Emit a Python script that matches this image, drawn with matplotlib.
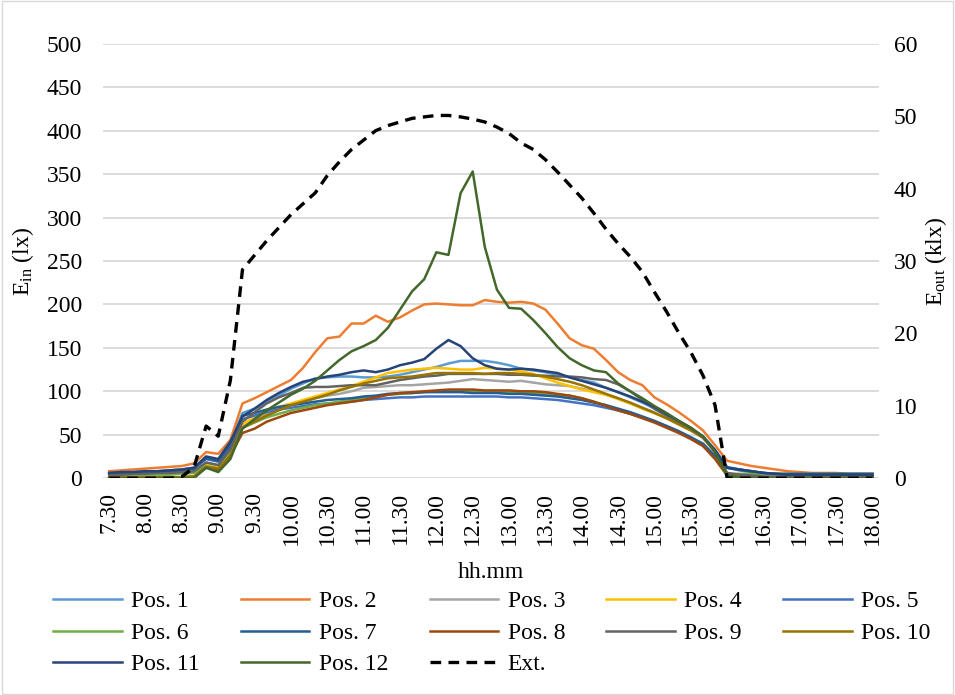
import matplotlib
matplotlib.use("Agg")
import matplotlib.pyplot as plt
from matplotlib.patches import Rectangle

plt.rcParams['font.family'] = ['Liberation Serif', 'DejaVu Serif']
plt.rcParams['mathtext.fontset'] = 'custom'
plt.rcParams['mathtext.rm'] = 'Liberation Serif'
plt.rcParams['mathtext.it'] = 'Liberation Serif:italic'

# time categories, 10-minute steps from 7.30 to 18.00
times = []
for h in range(7, 19):
    for m in range(0, 60, 10):
        if (h == 7 and m < 30) or (h == 18 and m > 0):
            continue
        times.append(f"{h}.{m:02d}")

pos1 = [6,6,7,7,8,8,9,11,24,21,40,
        75,80,88,95,103,109,115,116,117,117,
        116,116,117,119,122,125,128,132,135,135,
        135,133,130,126,124,122,119,116,113,110,
        104,99,93,87,80,72,65,57,48,33,13,
        10,8,6,5,4,4,4,4,4,4,4,4]
pos2 = [8,9,10,11,12,13,14,17,30,28,44,
        86,92,99,106,113,127,145,161,163,178,
        178,187,180,185,193,200,201,200,199,199,
        205,203,202,203,201,194,178,161,153,149,
        136,122,113,107,93,85,76,66,55,38,20,
        17,14,12,10,8,7,6,6,6,5,5,5]
pos3 = [4,4,5,5,6,6,7,8,18,15,33,
        60,66,74,80,84,88,92,95,97,100,
        104,105,106,107,107,108,109,110,112,114,
        113,112,111,112,110,108,107,106,103,100,
        96,92,86,81,76,69,62,55,46,30,5,
        3,2,1,1,1,1,1,1,1,1,1,1]
pos4 = [3,3,4,4,5,5,6,7,15,12,30,
        62,70,76,82,86,90,94,98,102,106,
        111,116,121,123,125,126,127,126,125,125,
        127,126,125,123,120,115,110,106,102,99,
        96,91,86,80,75,69,62,55,47,31,4,
        2,1,1,1,1,1,1,1,1,1,1,1]
pos5 = [6,7,7,8,8,9,10,12,22,19,37,
        68,72,76,79,81,83,85,86,87,88,
        90,91,92,93,93,94,94,94,94,94,
        94,94,93,93,92,91,90,88,86,84,
        81,78,74,70,65,60,54,47,40,25,12,
        9,7,6,5,4,4,4,4,4,4,4,4]
pos6 = [3,3,3,4,4,4,5,6,14,11,28,
        58,64,70,74,78,81,84,86,88,90,
        92,94,96,97,98,99,100,100,100,100,
        99,99,99,98,98,97,96,95,92,88,
        84,79,75,70,65,59,53,46,38,24,5,
        5,5,5,5,5,5,5,5,5,5,5,5]
pos7 = [5,6,6,7,7,8,9,11,23,20,38,
        72,75,79,82,84,86,88,90,91,92,
        94,95,97,98,98,99,99,99,99,98,
        98,98,97,97,96,95,94,92,90,87,
        84,80,76,71,66,60,54,47,39,26,12,
        10,8,6,5,5,5,5,5,5,5,5,5]
pos8 = [1,1,1,1,1,1,1,2,12,9,26,
        52,57,65,70,75,78,81,84,86,88,
        90,93,96,98,99,100,101,102,102,102,
        101,101,101,100,100,99,97,95,92,88,
        83,78,74,69,64,58,52,45,37,22,3,
        1,1,0,0,0,0,0,0,0,0,0,0]
pos9 = [4,4,5,5,6,6,7,8,18,15,33,
        65,76,86,93,98,104,105,105,106,107,
        107,107,110,113,115,117,118,120,120,120,
        120,120,119,119,118,118,117,117,116,114,
        113,108,100,90,80,72,64,56,48,32,6,
        4,3,2,2,2,2,2,2,2,2,2,2]
pos10 = [1,1,1,1,1,1,1,2,13,11,25,
         58,65,72,78,84,88,92,96,101,105,
         109,112,115,116,117,119,121,121,121,121,
         120,121,121,120,119,117,114,111,107,102,
         97,92,87,81,75,69,62,55,47,31,3,
         1,0,0,0,0,0,0,0,0,0,0,0]
pos11 = [6,7,7,8,8,9,10,12,25,22,42,
         71,80,90,98,105,111,114,117,119,122,
         124,122,125,130,133,137,149,159,152,138,
         130,126,125,126,125,123,121,116,112,108,
         104,99,94,88,82,74,66,58,48,32,12,
         10,8,6,5,4,4,4,4,4,4,4,4]
pos12 = [0,0,0,0,0,0,0,0,12,7,22,
         57,68,78,87,96,103,112,124,136,146,
         152,159,173,194,215,229,260,257,328,353,
         266,217,196,195,182,167,151,138,130,124,
         122,109,100,92,83,75,66,58,48,30,3,
         1,0,0,0,0,0,0,0,0,0,0,0]
ext = [0,0,0,0,0,0,0.2,1.5,7.2,5.8,13.5,
       28.8,30.8,32.8,34.6,36.4,37.9,39.4,41.8,43.7,45.4,
       46.7,48.0,48.7,49.2,49.7,49.9,50.1,50.1,49.9,49.6,
       49.2,48.5,47.6,46.3,45.4,44.0,42.3,40.5,38.7,36.6,
       34.4,32.4,30.6,28.5,25.7,23.0,20.1,17.4,14.2,10.1,0,
       0,0,0,0,0,0,0,0,0,0,0,0]

series = [pos1, pos2, pos3, pos4, pos5, pos6, pos7, pos8, pos9, pos10, pos11, pos12]
labels = [f"Pos. {k}" for k in range(1, 13)]
colors = ['#5B9BD5', '#ED7D31', '#A5A5A5', '#FFC000', '#4472C4', '#70AD47',
          '#255E91', '#9E480E', '#636363', '#997300', '#264478', '#43682B']

FS = 17

fig = plt.figure(figsize=(9.55, 6.95), dpi=100)
ax = fig.add_axes([0.108, 0.312, 0.812, 0.625])
ax2 = ax.twinx()

x = list(range(len(times)))
handles = []
for s, lab, c in zip(series, labels, colors):
    h, = ax.plot(x, s, color=c, lw=1.8, label=lab, zorder=3)
    handles.append(h)
he, = ax2.plot(x, ext, color='black', lw=2.4, dashes=(3.2, 2.2), label='Ext.')

ax.set_ylim(0, 500)
ax.set_yticks(range(0, 501, 50))
ax2.set_ylim(0, 60)
ax2.set_yticks(range(0, 61, 10))
ax.set_xlim(-0.5, len(times) - 0.5)
ax.set_xticks(x[::3])
ax.set_xticklabels(times[::3], rotation=90)

ax.grid(axis='y', color='#D9D9D9', lw=1.3)
ax.set_axisbelow(True)
for a in (ax, ax2):
    for sp in a.spines.values():
        sp.set_visible(False)
    a.tick_params(length=0, labelsize=FS, colors='black')
ax.tick_params(axis='y', pad=15)
ax.tick_params(axis='x', pad=10)
ax2.tick_params(axis='y', pad=11)

ax.set_xlabel('hh.mm', fontsize=FS, labelpad=12)
ax.set_ylabel(r'E$_{\mathrm{in}}$ (lx)', fontsize=FS, labelpad=8)
ax2.set_ylabel(r'E$_{\mathrm{out}}$ (klx)', fontsize=FS, labelpad=4)

order = [0, 5, 10, 1, 6, 11, 2, 7, None, 3, 8, 4, 9]
leg_h = [he if i is None else handles[i] for i in order]
leg = fig.legend(leg_h, [h.get_label() for h in leg_h], ncol=5, loc='center',
                 bbox_to_anchor=(0.515, 0.089), frameon=False, fontsize=FS,
                 handlelength=2.9, handletextpad=0.4, columnspacing=1.75,
                 labelspacing=0.42)

fig.patches.append(Rectangle((0.002, 0.002), 0.996, 0.996, transform=fig.transFigure,
                             fill=False, edgecolor='#D9D9D9', lw=1))

fig.savefig('out.png', dpi=100)
